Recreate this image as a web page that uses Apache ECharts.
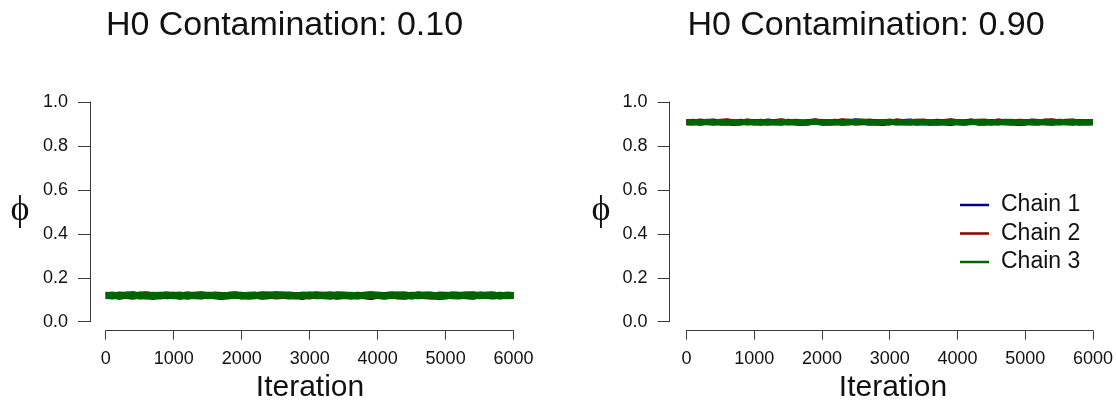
<!DOCTYPE html>
<html>
<head>
<meta charset="utf-8">
<title>H0 Contamination trace plots</title>
<script src="https://cdn.jsdelivr.net/npm/echarts@6/dist/echarts.min.js"></script>
<style>
  html, body { margin: 0; padding: 0; background: #ffffff; }
  #chart { width: 1116px; height: 400px; }
</style>
</head>
<body>
<div id="chart"></div>
<script>
// MCMC trace of phi, thinned to every 100th iteration, three chains per panel
const panelTitles = ['H0 Contamination: 0.10', 'H0 Contamination: 0.90'];
const chainNames = ['Chain 1', 'Chain 2', 'Chain 3'];
const chainColors = ['#00008b', '#8b0000', '#006400'];
const xTicks = { min: 0, max: 6000, interval: 1000 };
const yTicks = { min: 0, max: 1, interval: 0.2 };

// Panel 1: contamination 0.10
const low1 = [0.118,0.121,0.116,0.120,0.123,0.117,0.119,0.115,0.121,0.118,0.120,0.116,0.122,0.119,0.117,0.121,0.118,0.115,0.120,0.122,0.117,0.119,0.121,0.116,0.118,0.123,0.120,0.117,0.119,0.115,0.121,0.118,0.120,0.122,0.116,0.119,0.117,0.121,0.118,0.115,0.120,0.119,0.122,0.117,0.116,0.120,0.118,0.121,0.119,0.115,0.117,0.122,0.120,0.118,0.116,0.121,0.119,0.117,0.120,0.118,0.119];
const low2 = [0.120,0.117,0.122,0.119,0.116,0.121,0.123,0.118,0.117,0.122,0.119,0.121,0.116,0.120,0.123,0.118,0.121,0.119,0.117,0.122,0.120,0.116,0.118,0.123,0.121,0.117,0.119,0.122,0.118,0.120,0.117,0.123,0.119,0.116,0.121,0.122,0.118,0.117,0.120,0.123,0.119,0.116,0.121,0.120,0.122,0.117,0.123,0.118,0.116,0.121,0.120,0.118,0.117,0.122,0.123,0.118,0.121,0.122,0.117,0.120,0.119];
const low3 = [0.119,0.120,0.118,0.121,0.119,0.120,0.117,0.120,0.119,0.121,0.118,0.119,0.120,0.118,0.121,0.119,0.120,0.117,0.119,0.121,0.118,0.120,0.119,0.118,0.121,0.120,0.122,0.119,0.118,0.120,0.121,0.119,0.118,0.120,0.121,0.119,0.120,0.118,0.119,0.121,0.120,0.118,0.119,0.121,0.120,0.118,0.119,0.120,0.121,0.118,0.119,0.120,0.119,0.121,0.118,0.120,0.119,0.121,0.118,0.120,0.119];

// Panel 2: contamination 0.90
const high1 = [0.907,0.910,0.905,0.909,0.911,0.906,0.908,0.904,0.910,0.907,0.909,0.905,0.911,0.908,0.906,0.910,0.907,0.904,0.909,0.911,0.906,0.908,0.910,0.905,0.907,0.912,0.909,0.906,0.908,0.904,0.910,0.907,0.909,0.911,0.905,0.908,0.906,0.910,0.907,0.904,0.909,0.908,0.911,0.906,0.905,0.909,0.907,0.910,0.908,0.904,0.906,0.911,0.909,0.907,0.905,0.910,0.908,0.906,0.909,0.907,0.908];
const high2 = [0.909,0.906,0.911,0.908,0.905,0.910,0.912,0.907,0.906,0.911,0.908,0.910,0.905,0.909,0.912,0.907,0.910,0.908,0.906,0.911,0.909,0.905,0.907,0.912,0.910,0.906,0.908,0.911,0.907,0.909,0.906,0.912,0.908,0.905,0.910,0.911,0.907,0.906,0.909,0.912,0.908,0.905,0.910,0.909,0.911,0.906,0.912,0.907,0.905,0.910,0.909,0.907,0.906,0.911,0.912,0.907,0.910,0.911,0.906,0.909,0.908];
const high3 = [0.908,0.909,0.907,0.910,0.908,0.909,0.906,0.909,0.908,0.910,0.907,0.908,0.909,0.907,0.910,0.908,0.909,0.906,0.908,0.910,0.907,0.909,0.908,0.907,0.910,0.909,0.911,0.908,0.907,0.909,0.910,0.908,0.907,0.909,0.910,0.908,0.909,0.907,0.908,0.910,0.909,0.907,0.908,0.910,0.909,0.907,0.908,0.909,0.910,0.907,0.908,0.909,0.908,0.910,0.907,0.909,0.908,0.910,0.907,0.909,0.908];

const panelChains = [[low1, low2, low3], [high1, high2, high3]];

// pair each kept draw with its iteration number (draws are evenly thinned over 0..6000)
function withIterations(values) {
  const step = (xTicks.max - xTicks.min) / (values.length - 1);
  return values.map((v, i) => [xTicks.min + i * step, v]);
}

const sansFont = '"Liberation Sans", Arial, Helvetica, sans-serif';
const serifFont = '"Liberation Serif", "DejaVu Serif", serif';
const axisColor = '#3a3a3a';
const textColor = '#111111';

const grids = [
  { left: 105.7, right: 602.4, top: 102, bottom: 78.3 },
  { left: 686.4, right: 18.1, top: 102, bottom: 78.3 }
];
const yAxisOffsets = [15.7, 16.8];

const xAxes = grids.map((g, i) => ({
  type: 'value', gridIndex: i,
  min: xTicks.min, max: xTicks.max, interval: xTicks.interval,
  offset: 9,
  axisLine: { show: true, onZero: false, lineStyle: { color: axisColor, width: 1 } },
  axisTick: { show: true, length: 9, lineStyle: { color: axisColor, width: 1 } },
  axisLabel: { fontFamily: sansFont, fontSize: 18, color: textColor, margin: 19, showMinLabel: true, showMaxLabel: true, formatter: v => String(v) },
  splitLine: { show: false }
}));

const yAxes = grids.map((g, i) => ({
  type: 'value', gridIndex: i,
  min: yTicks.min, max: yTicks.max, interval: yTicks.interval,
  offset: yAxisOffsets[i],
  axisLine: { show: true, onZero: false, lineStyle: { color: axisColor, width: 1 } },
  axisTick: { show: true, length: 12, lineStyle: { color: axisColor, width: 1 } },
  axisLabel: { fontFamily: sansFont, fontSize: 18, color: textColor, margin: 22, formatter: v => v.toFixed(1) },
  splitLine: { show: false }
}));

const series = [];
panelChains.forEach((chains, p) => {
  chains.forEach((values, c) => {
    series.push({
      name: chainNames[c],
      type: 'line',
      xAxisIndex: p, yAxisIndex: p,
      data: withIterations(values),
      showSymbol: false,
      symbol: 'none',
      silent: true,
      animation: false,
      lineStyle: { color: chainColors[c], width: p === 0 ? 7 : 6 },
      itemStyle: { color: chainColors[c] },
      z: 2 + c
    });
  });
});

const titleCenters = [[284.5, 26], [866, 26]];
const phiCenters = [[20, 211], [601, 211]];
const xNameCenters = [[310, 388], [893, 388]];

const graphics = [];
panelTitles.forEach((t, i) => {
  graphics.push({
    type: 'text', x: titleCenters[i][0], y: titleCenters[i][1],
    style: { text: t, font: '34px ' + sansFont, fill: textColor, align: 'center', verticalAlign: 'middle' }
  });
  graphics.push({
    type: 'text', x: phiCenters[i][0], y: phiCenters[i][1],
    style: { text: '\u03d5', font: '36px ' + serifFont, fill: textColor, align: 'center', verticalAlign: 'middle' }
  });
  graphics.push({
    type: 'text', x: xNameCenters[i][0], y: xNameCenters[i][1],
    style: { text: 'Iteration', font: '30px ' + sansFont, fill: textColor, align: 'center', verticalAlign: 'middle' }
  });
});

const chart = echarts.init(document.getElementById('chart'), null, { renderer: 'canvas' });
chart.setOption({
  backgroundColor: '#ffffff',
  animation: false,
  grid: grids,
  xAxis: xAxes,
  yAxis: yAxes,
  legend: {
    data: chainNames,
    orient: 'vertical',
    left: 955,
    top: 186,
    icon: 'rect',
    itemWidth: 29,
    itemHeight: 2.5,
    itemGap: 0.5,
    selectedMode: false,
    textStyle: { fontFamily: sansFont, fontSize: 23, color: textColor, lineHeight: 28, padding: [0, 0, 0, 7] }
  },
  graphic: graphics,
  series: series
});
</script>
</body>
</html>
